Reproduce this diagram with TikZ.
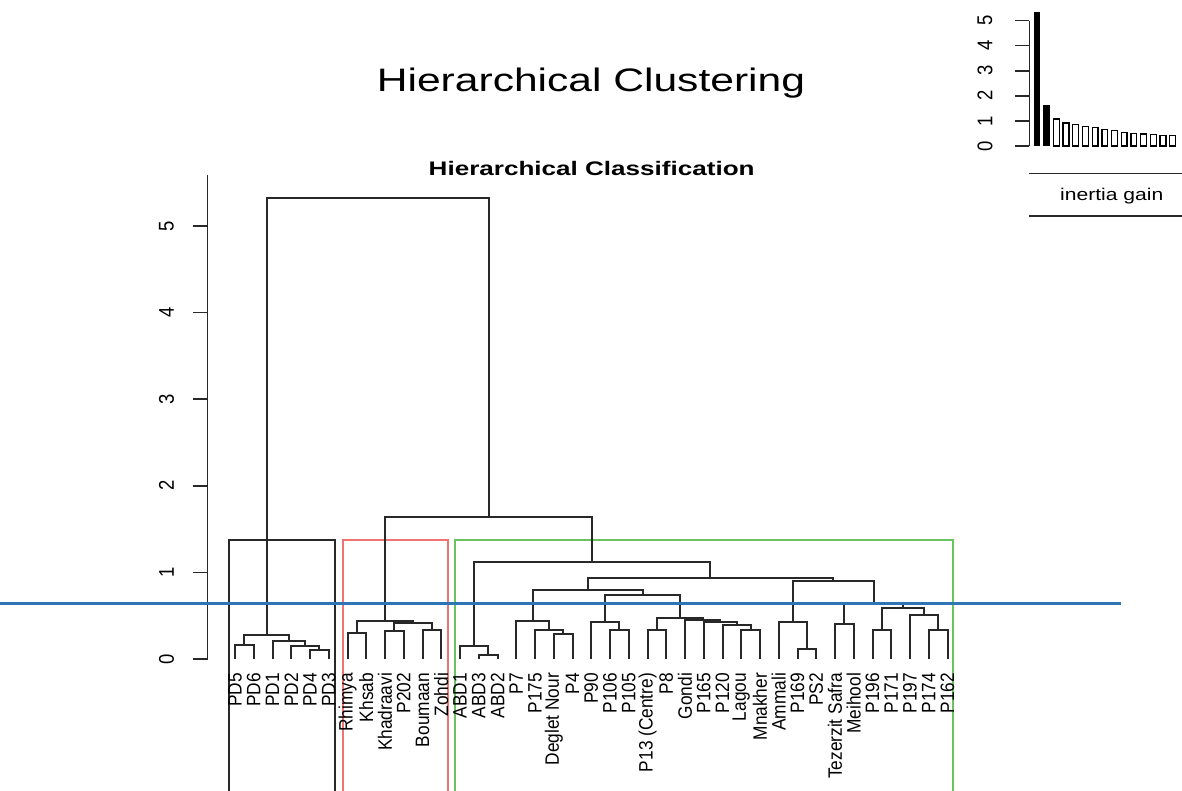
\documentclass[tikz,border=0pt]{standalone}
\usepackage{fontspec}
\setmainfont{Liberation Sans}
\usetikzlibrary{positioning}
\definecolor{cutblue}{RGB}{46,117,182}
\definecolor{boxred}{RGB}{240,115,115}
\definecolor{boxgreen}{RGB}{105,195,95}
\definecolor{linegray}{RGB}{40,40,40}

\begin{document}
\begin{tikzpicture}[x=1pt,y=-1pt,
  link/.style={draw=linegray,line width=2pt},
  axisline/.style={draw=linegray,line width=1.5pt},
  clusterbox/.style={line width=2pt},
  leaflabel/.style={rotate=90,anchor=east,inner sep=0pt,font=\fontsize{17.3}{17.3}\selectfont},
  ticklabel/.style={rotate=90,inner sep=0pt,font=\fontsize{18.5}{18.5}\selectfont}]
  \useasboundingbox (0,0) rectangle (1182,791);
  \fill[white] (0,0) rectangle (1182,791);

  % Titles
  \node[anchor=base] (title) at (591,91.7) {\scalebox{1.31}[1]{\fontsize{32.5}{32.5}\selectfont Hierarchical Clustering}};
  \node[anchor=base] (subtitle) at (591.7,175.7) {\scalebox{1.33}[1]{\fontsize{19.6}{19.6}\selectfont\bfseries Hierarchical Classification}};

  % Cluster boxes (open at the bottom)
  \draw[clusterbox,linegray] (229,791) |- (335,539.5) -- (335,791);
  \draw[clusterbox,boxred] (342.7,791) |- (448.3,539.5) -- (448.3,791);
  \draw[clusterbox,boxgreen] (455,791) |- (953,539.5) -- (953,791);

  \begin{scope}[shift={(0,659)},y=86.6pt]
    % Height axis
    \draw[axisline] (207.7,0) -- (207.7,5.59);
    \foreach \k in {0,...,5} {
      \draw[axisline] (193.3,\k) -- (207.7,\k);
      \node[ticklabel] (y\k) at (166.5,\k) {\scalebox{1}[1.15]{\k}};
    }

    % Leaves
    \foreach \lab [count=\i from 0] in {PD5,PD6,PD1,PD2,PD4,PD3,Rhimya,Khsab,Khadraavi,P202,Boumaan,Zohdi,ABD1,ABD3,ABD2,P7,P175,Deglet Nour,P4,P90,P106,P105,P13 (Centre),P8,Gondi,P165,P120,Lagou,Mnakher,Ammali,P169,PS2,Tezerzit Safra,Meihool,P196,P171,P197,P174,P162} {
      \coordinate (l\i) at ({235+18.75*\i},0);
      \node[leaflabel] (t\i) at ({235+18.75*\i},-0.16) {\scalebox{1}[1.12]{\lab}};
    }

    % Cluster 1
    \coordinate (c1a) at (244.38,0.16); \draw[link] (l0) |- (c1a) -| (l1);
    \coordinate (c1b) at (319.38,0.10); \draw[link] (l4) |- (c1b) -| (l5);
    \coordinate (c1c) at (305.31,0.15); \draw[link] (l3) |- (c1c) -| (c1b);
    \coordinate (c1d) at (288.91,0.21); \draw[link] (l2) |- (c1d) -| (c1c);
    \coordinate (c1) at (266.64,0.28); \draw[link] (c1a) |- (c1) -| (c1d);

    % Cluster 2
    \coordinate (c2a) at (356.88,0.30); \draw[link] (l6) |- (c2a) -| (l7);
    \coordinate (c2b) at (394.38,0.32); \draw[link] (l8) |- (c2b) -| (l9);
    \coordinate (c2c) at (431.88,0.34); \draw[link] (l10) |- (c2c) -| (l11);
    \coordinate (c2d) at (413.13,0.42); \draw[link] (c2b) |- (c2d) -| (c2c);
    \coordinate (c2) at (385.00,0.44); \draw[link] (c2a) |- (c2) -| (c2d);

    % Cluster 3
    \coordinate (g1) at (488.13,0.05); \draw[link] (l13) |- (g1) -| (l14);
    \coordinate (g2) at (474.06,0.15); \draw[link] (l12) |- (g2) -| (g1);
    \coordinate (a1) at (563.13,0.29); \draw[link] (l17) |- (a1) -| (l18);
    \coordinate (a2) at (549.06,0.34); \draw[link] (l16) |- (a2) -| (a1);
    \coordinate (a3) at (532.66,0.44); \draw[link] (l15) |- (a3) -| (a2);
    \coordinate (b1) at (619.38,0.34); \draw[link] (l20) |- (b1) -| (l21);
    \coordinate (b2) at (605.31,0.43); \draw[link] (l19) |- (b2) -| (b1);
    \coordinate (k1) at (656.88,0.34); \draw[link] (l22) |- (k1) -| (l23);
    \coordinate (k2) at (750.63,0.33); \draw[link] (l27) |- (k2) -| (l28);
    \coordinate (k3) at (736.56,0.39); \draw[link] (l26) |- (k3) -| (k2);
    \coordinate (k4) at (720.16,0.43); \draw[link] (l25) |- (k4) -| (k3);
    \coordinate (k5) at (702.58,0.455); \draw[link] (l24) |- (k5) -| (k4);
    \coordinate (k6) at (679.73,0.47); \draw[link] (k1) |- (k6) -| (k5);
    \coordinate (bc) at (642.52,0.74); \draw[link] (b2) |- (bc) -| (k6);
    \coordinate (abc) at (587.59,0.80); \draw[link] (a3) |- (abc) -| (bc);
    \coordinate (d1) at (806.88,0.12); \draw[link] (l30) |- (d1) -| (l31);
    \coordinate (d2) at (792.81,0.43); \draw[link] (l29) |- (d2) -| (d1);
    \coordinate (d3) at (844.38,0.40); \draw[link] (l32) |- (d3) -| (l33);
    \coordinate (d4) at (881.88,0.34); \draw[link] (l34) |- (d4) -| (l35);
    \coordinate (d5) at (938.13,0.33); \draw[link] (l37) |- (d5) -| (l38);
    \coordinate (d6) at (924.06,0.51); \draw[link] (l36) |- (d6) -| (d5);
    \coordinate (d7) at (902.97,0.59); \draw[link] (d4) |- (d7) -| (d6);
    \coordinate (d8) at (873.67,0.64); \draw[link] (d3) |- (d8) -| (d7);
    \coordinate (d9) at (833.24,0.90); \draw[link] (d2) |- (d9) -| (d8);
    \coordinate (e1) at (710.41,0.93); \draw[link] (abc) |- (e1) -| (d9);
    \coordinate (c3) at (592.24,1.12); \draw[link] (g2) |- (c3) -| (e1);

    % Upper merges
    \coordinate (upper) at (488.62,1.64); \draw[link] (c2) |- (upper) -| (c3);
    \coordinate (root) at (377.63,5.32); \draw[link] (c1) |- (root) -| (upper);
  \end{scope}

  % Cut line
  \coordinate (cutL) at (0,603.5);
  \coordinate (cutR) at (1121,603.5);
  \draw[cutblue,line width=3pt] (cutL) -- (cutR);

  % Inertia gain inset
  \begin{scope}[shift={(0,146)},y=25.08pt]
    \draw[axisline] (1029.3,0) -- (1029.3,5);
    \foreach \k in {0,...,5} {
      \draw[axisline] (1015,\k) -- (1029.3,\k);
      \node[ticklabel] (g\k) at (985,\k) {\scalebox{1}[1.15]{\k}};
    }
    \foreach \v [count=\i from 0] in {5.32,1.60}
      \draw[fill=black,line width=1pt] ({1034+9.7*\i},0) rectangle ++(5.8,\v);
    \foreach \v [count=\i from 2] in {1.08,0.92,0.87,0.78,0.74,0.65,0.61,0.54,0.51,0.48,0.45,0.41,0.41}
      \draw[fill=white,line width=1.3pt] ({1034+9.7*\i},0) rectangle ++(5.8,\v);
  \end{scope}
  \draw[axisline] (1029,173.3) -- (1182,173.3);
  \node[anchor=base] (gain) at (1111.7,201) {\scalebox{1.24}[1]{\fontsize{17}{17}\selectfont inertia gain}};
  \draw[axisline] (1029,216) -- (1182,216);
\end{tikzpicture}
\end{document}
